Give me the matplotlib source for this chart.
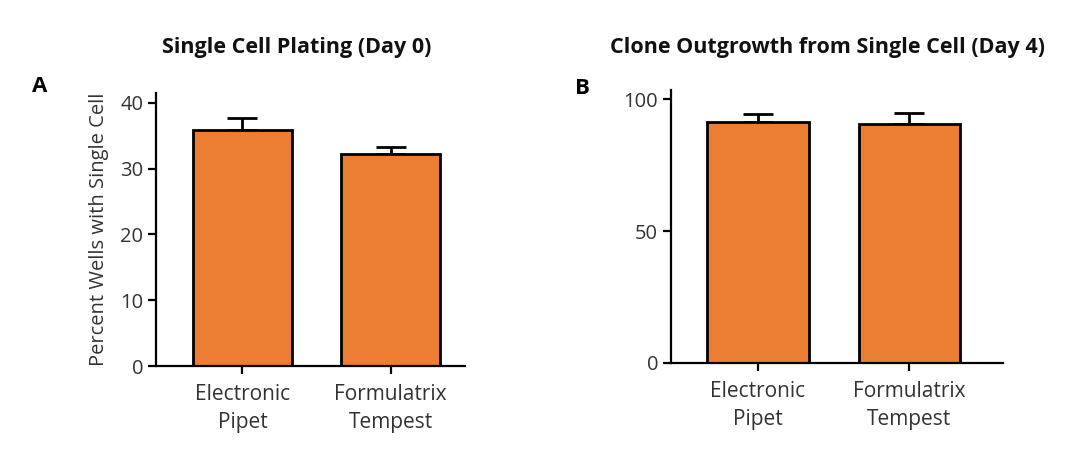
import numpy as np
import matplotlib.pyplot as plt

plt.rcParams['font.family'] = ['Open Sans', 'DejaVu Sans']

# data
groups = ['Electronic\nPipet', 'Formulatrix\nTempest']
plating_mean = [35.9, 32.2]
plating_err = [1.8, 1.0]
outgrowth_mean = [91.5, 90.5]
outgrowth_err = [2.8, 4.4]

bar_color = '#EC7E33'
text_color = '#333333'

fig = plt.figure(figsize=(10.8, 4.53), dpi=100)

def draw_panel(ax, means, errs, yticks, ylim, xlim):
    x = np.arange(len(means))
    ax.bar(x, means, width=0.67, color=bar_color, edgecolor='black', linewidth=2, zorder=2)
    ax.errorbar(x, means, yerr=[np.zeros(len(errs)), errs], fmt='none', ecolor='black',
                elinewidth=2, capsize=11, capthick=2, zorder=1)
    ax.set_xlim(*xlim)
    ax.set_ylim(*ylim)
    ax.set_yticks(yticks)
    ax.set_xticks(x)
    ax.set_xticklabels(groups, fontsize=15, color=text_color, linespacing=1.45)
    ax.tick_params(axis='x', pad=7)
    ax.tick_params(axis='y', labelsize=14.5, labelcolor=text_color, pad=3)
    ax.tick_params(direction='out', length=6, width=1.6, color='black')
    for s in ['top', 'right']:
        ax.spines[s].set_visible(False)
    for s in ['left', 'bottom']:
        ax.spines[s].set_linewidth(1.6)

#パネルA
axA = fig.add_axes([0.1444, 0.192, 0.2862, 0.603])
draw_panel(axA, plating_mean, plating_err, [0, 10, 20, 30, 40], (0, 41.5), (-0.584, 1.503))
axA.set_ylabel('Percent Wells with Single Cell', fontsize=14.5, color=text_color, labelpad=8)

#パネルB
axB = fig.add_axes([0.621, 0.199, 0.3077, 0.602])
draw_panel(axB, outgrowth_mean, outgrowth_err, [0, 50, 100], (0, 103.5), (-0.576, 1.617))

fig.text(297/1080, 1 - 47/453, 'Single Cell Plating (Day 0)', ha='center', va='center',
         fontsize=15.5, fontweight='bold', color='#111111')
fig.text(828/1080, 1 - 47/453, 'Clone Outgrowth from Single Cell (Day 4)', ha='center', va='center',
         fontsize=15.5, fontweight='bold', color='#111111')
fig.text(40/1080, 1 - 86/453, 'A', ha='center', va='center', fontsize=16, fontweight='bold', color='black')
fig.text(582/1080, 1 - 88/453, 'B', ha='center', va='center', fontsize=16, fontweight='bold', color='black')

fig.savefig('out.png', dpi=100)
